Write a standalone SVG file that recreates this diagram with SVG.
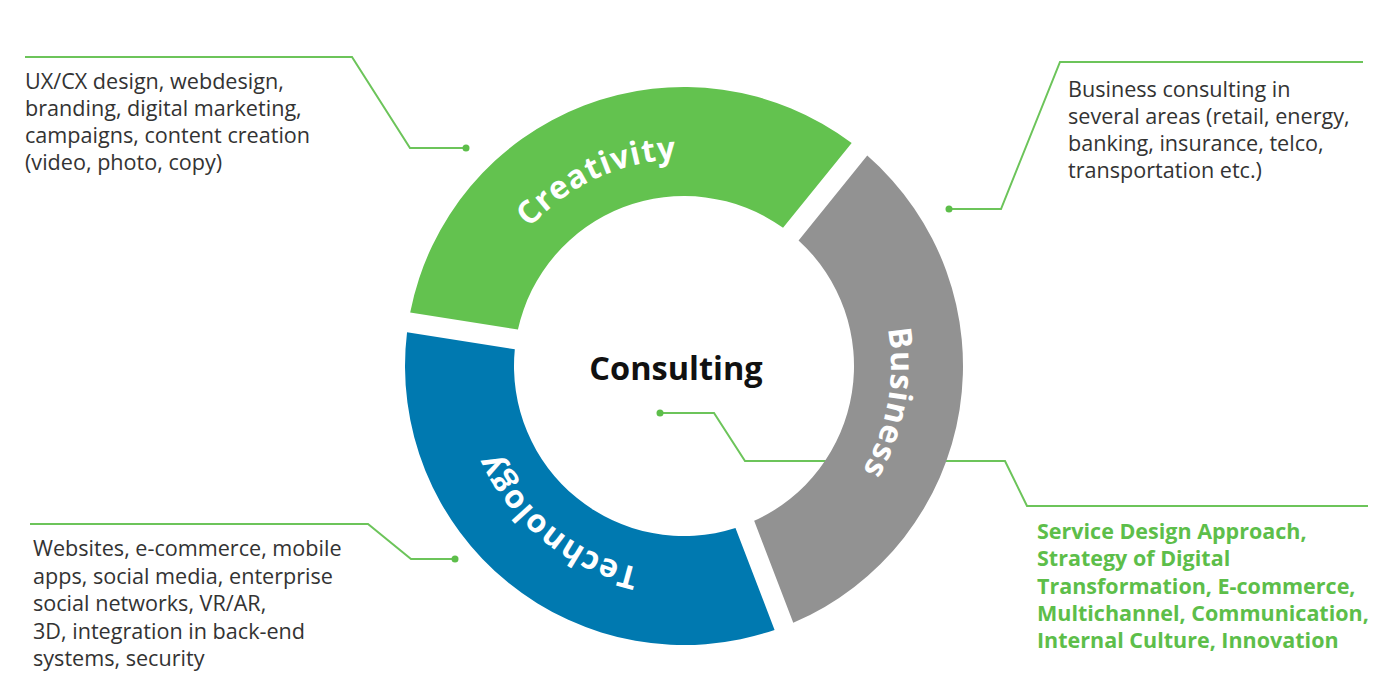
<svg xmlns="http://www.w3.org/2000/svg" width="1400" height="700" viewBox="0 0 1400 700">
<style>
.desc{font-family:"Open Sans","Liberation Sans",sans-serif;font-size:21.6px;fill:#333333;}
.hl{font-family:"Open Sans","Liberation Sans",sans-serif;font-size:21.5px;font-weight:bold;fill:#5dbe4a;}
.ring{font-family:"Open Sans","Liberation Sans",sans-serif;font-size:32px;font-weight:bold;fill:#ffffff;letter-spacing:1px;}
.center{font-family:"Open Sans","Liberation Sans",sans-serif;font-size:32.5px;font-weight:bold;fill:#111111;}
.conn{fill:none;stroke:#6cc45a;stroke-width:2;stroke-linejoin:miter;}
.dot{fill:#5dbe4a;}
</style>
<defs>
<path id="pCreativity" d="M 480.80 326.50 A 207 207 0 0 1 808.57 200.69"/>
<path id="pBusiness" d="M 819.81 209.78 A 207 207 0 0 1 764.87 556.54"/>
<path id="pTechnology" d="M 751.40 561.72 A 207 207 0 0 1 478.54 340.77"/>
</defs>
<rect width="1400" height="700" fill="#ffffff"/>
<g id="connectors">
<polyline class="conn" points="25,57 352,57 410,148 466,148"/>
<circle class="dot" cx="466" cy="148" r="3.5"/>
<polyline class="conn" points="1363,62 1060,62 1001,209 949,209"/>
<circle class="dot" cx="949" cy="209" r="3.5"/>
<polyline class="conn" points="30,524 368,524 411,559 455,559"/>
<circle class="dot" cx="455" cy="559" r="3.5"/>
<polyline class="conn" points="660,413 714,413 745,461 1005,461 1027,506 1368,506"/>
<circle class="dot" cx="660" cy="413" r="3.5"/>
</g>
<g id="creativity">
<path fill="#63c24f" d="M 410.18 312.50 A 279 279 0 0 1 851.68 143.02 L 783.03 227.82 A 170 170 0 0 0 517.94 329.58 Z"/>
<text class="ring"><textPath href="#pCreativity" startOffset="46.5%" text-anchor="middle">Creativity</textPath></text>
</g>
<g id="business">
<path fill="#929292" d="M 867.25 155.61 A 279 279 0 0 1 793.26 622.71 L 754.16 520.85 A 170 170 0 0 0 798.58 240.39 Z"/>
<text class="ring"><textPath href="#pBusiness" startOffset="51%" text-anchor="middle">Business</textPath></text>
</g>
<g id="technology">
<path fill="#0079b0" d="M 774.59 629.88 A 279 279 0 0 1 407.05 332.26 L 514.82 349.33 A 170 170 0 0 0 735.48 528.03 Z"/>
<text class="ring"><textPath href="#pTechnology" startOffset="50%" text-anchor="middle">Technology</textPath></text>
</g>
<g id="consulting">
<text class="center" x="676" y="380" text-anchor="middle">Consulting</text>
</g>
<g id="creativity-desc">
<text class="desc" x="25" y="89">UX/CX design, webdesign,</text>
<text class="desc" x="25" y="116">branding, digital marketing,</text>
<text class="desc" x="25" y="143">campaigns, content creation</text>
<text class="desc" x="25" y="170">(video, photo, copy)</text>
</g>
<g id="business-desc">
<text class="desc" x="1068" y="97">Business consulting in</text>
<text class="desc" x="1068" y="124">several areas (retail, energy,</text>
<text class="desc" x="1068" y="151">banking, insurance, telco,</text>
<text class="desc" x="1068" y="178">transportation etc.)</text>
</g>
<g id="technology-desc">
<text class="desc" x="33" y="556">Websites, e-commerce, mobile</text>
<text class="desc" x="33" y="583.5">apps, social media, enterprise</text>
<text class="desc" x="33" y="611">social networks, VR/AR,</text>
<text class="desc" x="33" y="638.5">3D, integration in back-end</text>
<text class="desc" x="33" y="666">systems, security</text>
</g>
<g id="consulting-desc">
<text class="hl" x="1037" y="539">Service Design Approach,</text>
<text class="hl" x="1037" y="566">Strategy of Digital</text>
<text class="hl" x="1037" y="594">Transformation, E-commerce,</text>
<text class="hl" x="1037" y="621">Multichannel, Communication,</text>
<text class="hl" x="1037" y="648">Internal Culture, Innovation</text>
</g>
</svg>
